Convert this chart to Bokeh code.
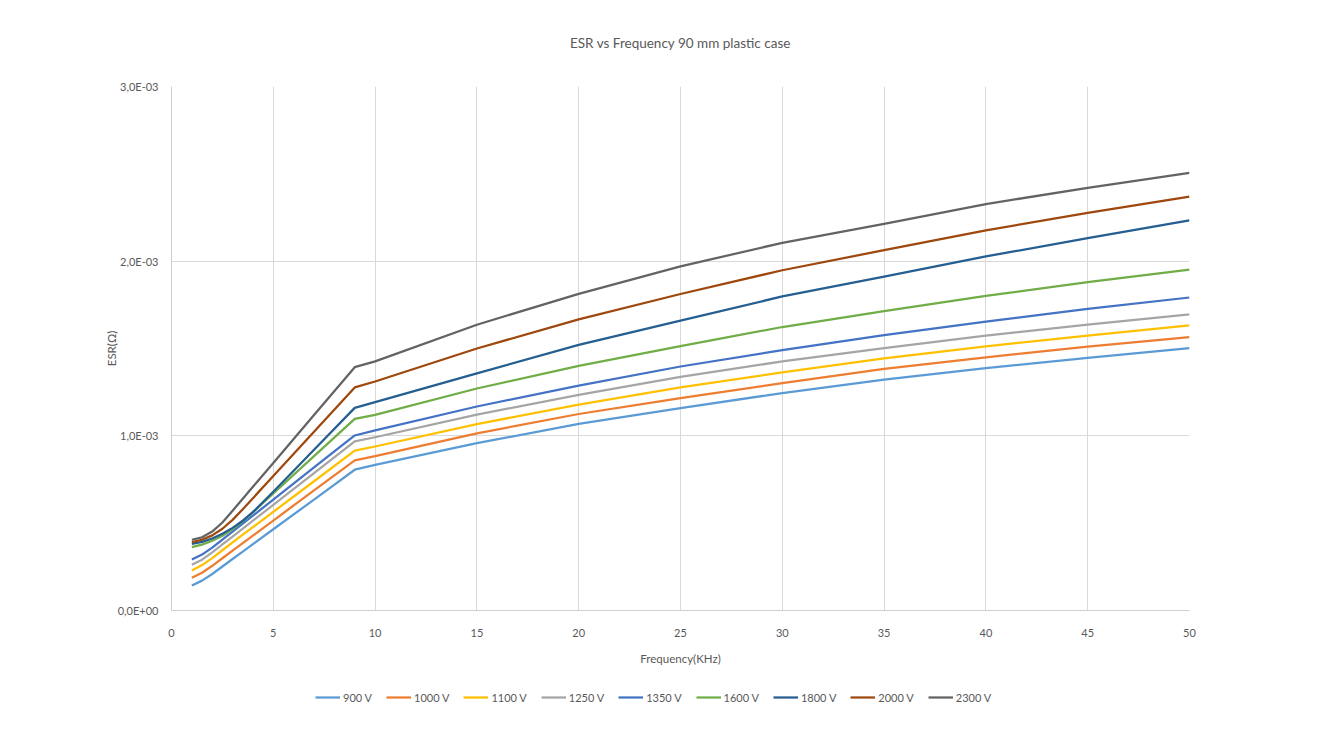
from bokeh.plotting import figure
from bokeh.layouts import column
from bokeh.models import FixedTicker, Legend, LegendItem, Range1d
from bokeh.embed import file_html
from bokeh.resources import INLINE

# ---- data (ESR in ohm vs frequency in kHz) ----
freq = [1, 1.5, 2, 2.5, 3, 3.5, 4, 5, 7, 9, 10, 15, 20, 25, 30, 35, 40, 45, 50]

esr_900 = [0.143e-3, 0.171e-3, 0.209e-3, 0.252e-3, 0.295e-3, 0.337e-3, 0.380e-3, 0.465e-3, 0.635e-3,
           0.806e-3, 0.834e-3, 0.958e-3, 1.068e-3, 1.159e-3, 1.245e-3, 1.322e-3, 1.388e-3, 1.447e-3, 1.502e-3]
esr_1000 = [0.187e-3, 0.216e-3, 0.256e-3, 0.299e-3, 0.343e-3, 0.386e-3, 0.429e-3, 0.515e-3, 0.688e-3,
            0.860e-3, 0.884e-3, 1.014e-3, 1.125e-3, 1.216e-3, 1.302e-3, 1.383e-3, 1.449e-3, 1.511e-3, 1.565e-3]
esr_1100 = [0.229e-3, 0.260e-3, 0.300e-3, 0.345e-3, 0.390e-3, 0.434e-3, 0.477e-3, 0.565e-3, 0.740e-3,
            0.915e-3, 0.939e-3, 1.067e-3, 1.179e-3, 1.277e-3, 1.363e-3, 1.444e-3, 1.512e-3, 1.574e-3, 1.632e-3]
esr_1250 = [0.262e-3, 0.291e-3, 0.333e-3, 0.378e-3, 0.423e-3, 0.469e-3, 0.514e-3, 0.605e-3, 0.786e-3,
            0.968e-3, 0.992e-3, 1.121e-3, 1.235e-3, 1.338e-3, 1.426e-3, 1.502e-3, 1.574e-3, 1.637e-3, 1.696e-3]
esr_1350 = [0.292e-3, 0.320e-3, 0.360e-3, 0.406e-3, 0.452e-3, 0.497e-3, 0.543e-3, 0.635e-3, 0.819e-3,
            1.002e-3, 1.031e-3, 1.168e-3, 1.288e-3, 1.397e-3, 1.491e-3, 1.576e-3, 1.654e-3, 1.727e-3, 1.792e-3]
esr_1600 = [0.363e-3, 0.377e-3, 0.399e-3, 0.428e-3, 0.466e-3, 0.511e-3, 0.563e-3, 0.670e-3, 0.884e-3,
            1.097e-3, 1.120e-3, 1.271e-3, 1.400e-3, 1.514e-3, 1.623e-3, 1.714e-3, 1.801e-3, 1.880e-3, 1.952e-3]
esr_1800 = [0.382e-3, 0.393e-3, 0.412e-3, 0.439e-3, 0.473e-3, 0.514e-3, 0.563e-3, 0.680e-3, 0.920e-3,
            1.160e-3, 1.193e-3, 1.358e-3, 1.521e-3, 1.660e-3, 1.798e-3, 1.911e-3, 2.027e-3, 2.132e-3, 2.233e-3]
esr_2000 = [0.391e-3, 0.405e-3, 0.430e-3, 0.468e-3, 0.519e-3, 0.580e-3, 0.643e-3, 0.770e-3, 1.024e-3,
            1.277e-3, 1.311e-3, 1.500e-3, 1.667e-3, 1.812e-3, 1.948e-3, 2.063e-3, 2.176e-3, 2.277e-3, 2.370e-3]
esr_2300 = [0.405e-3, 0.419e-3, 0.452e-3, 0.504e-3, 0.571e-3, 0.640e-3, 0.708e-3, 0.845e-3, 1.119e-3,
            1.393e-3, 1.426e-3, 1.636e-3, 1.813e-3, 1.970e-3, 2.105e-3, 2.214e-3, 2.327e-3, 2.420e-3, 2.506e-3]

series_labels = ["900 V", "1000 V", "1100 V", "1250 V", "1350 V",
                 "1600 V", "1800 V", "2000 V", "2300 V"]
series_values = [esr_900, esr_1000, esr_1100, esr_1250, esr_1350,
                 esr_1600, esr_1800, esr_2000, esr_2300]
series_colors = ["#5B9BD5", "#ED7D31", "#FFC000", "#A5A5A5", "#4472C4",
                 "#70AD47", "#255E91", "#9E480E", "#636363"]

x_ticks = [0, 5, 10, 15, 20, 25, 30, 35, 40, 45, 50]
y_ticks = [0.0, 1e-3, 2e-3, 3e-3]
y_tick_labels = ["0,0E+00", "1,0E-03", "2,0E-03", "3,0E-03"]

FONT = "Lato"
TXT = "#595959"
GRID = "#d9d9d9"

p = figure(frame_width=1018, frame_height=524, output_backend="svg", toolbar_location=None,
           x_range=Range1d(0, 50), y_range=Range1d(0, 3e-3),
           title="ESR vs Frequency 90 mm plastic case",
           min_border_left=171, min_border_right=131, min_border_top=86,
           min_border_bottom=70)
p.title.align = "center"
p.title.vertical_align = "top"
p.title.text_font = FONT
p.title.text_font_size = "13.5px"
p.title.text_font_style = "normal"
p.title.text_color = TXT
p.title.standoff = 68

p.outline_line_color = None
p.background_fill_color = "white"
p.border_fill_color = "white"

p.xgrid.grid_line_color = GRID
p.ygrid.grid_line_color = GRID
p.xgrid.ticker = FixedTicker(ticks=x_ticks)
p.ygrid.ticker = FixedTicker(ticks=y_ticks)

p.xaxis.ticker = FixedTicker(ticks=x_ticks)
p.yaxis.ticker = FixedTicker(ticks=y_ticks)
p.yaxis.major_label_overrides = {t: l for t, l in zip(y_ticks, y_tick_labels)}
for ax in (p.xaxis, p.yaxis):
    ax.axis_line_color = "#cfcfcf"
    ax.major_tick_line_color = None
    ax.minor_tick_line_color = None
    ax.major_label_text_font = FONT
    ax.major_label_text_font_size = "11px"
    ax.major_label_text_color = TXT
    ax.axis_label_text_font = FONT
    ax.axis_label_text_font_size = "11.5px"
    ax.axis_label_text_font_style = "normal"
    ax.axis_label_text_color = TXT
p.xaxis.axis_label = "Frequency(KHz)"
p.yaxis.axis_label = "ESR(Ω)"
p.xaxis.major_label_standoff = 12
p.xaxis.axis_label_standoff = 12
p.yaxis.major_label_standoff = 7
p.yaxis.axis_label_standoff = -3

for vals, col in zip(series_values, series_colors):
    p.line(freq, vals, line_color=col, line_width=2.25, line_join="round")

# ---- legend strip below the chart ----
pl = figure(width=1312, height=36, output_backend="svg", toolbar_location=None,
            min_border=0, x_axis_type=None, y_axis_type=None,
            x_range=Range1d(0, 1), y_range=Range1d(0, 1))
pl.outline_line_color = None
pl.xgrid.visible = False
pl.ygrid.visible = False
pl.background_fill_color = "white"
pl.border_fill_color = "white"
items = []
for lab, col in zip(series_labels, series_colors):
    # legend sample only: its points lie outside the strip's visible range
    r = pl.line(x=[2, 3], y=[2, 3], line_color=col, line_width=2.25)
    items.append(LegendItem(label=lab, renderers=[r]))
legend = Legend(items=items, orientation="horizontal", location=(144, 9))
legend.border_line_color = None
legend.background_fill_alpha = 0
legend.label_text_font = FONT
legend.label_text_font_size = "11px"
legend.label_text_color = TXT
legend.glyph_width = 25
legend.label_standoff = 3
legend.spacing = 14
legend.margin = 0
legend.padding = 4
pl.add_layout(legend)

layout = column(p, pl, spacing=0)
open("out.html", "w").write(file_html(layout, INLINE))
